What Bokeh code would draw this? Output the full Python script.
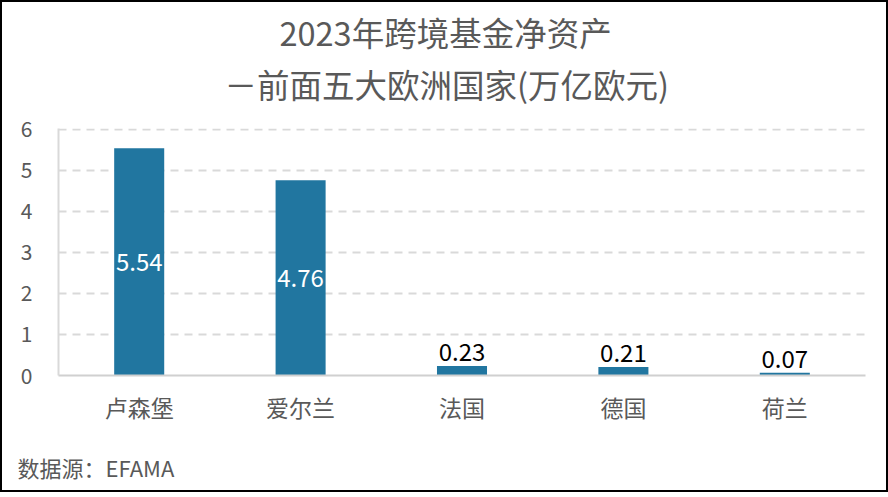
from bokeh.plotting import figure
from bokeh.models import ColumnDataSource, FactorRange, Title
from bokeh.layouts import column
from bokeh.embed import file_html
from bokeh.resources import INLINE
from bokeh.core.properties import value

countries = ["卢森堡", "爱尔兰", "法国", "德国", "荷兰"]
values = [5.54, 4.76, 0.23, 0.21, 0.07]
y_ticks = [0, 1, 2, 3, 4, 5, 6]
title_lines = ["2023年跨境基金净资产", "－前面五大欧洲国家(万亿欧元)"]
source_note = "数据源：EFAMA"

FONT = "Noto Sans CJK SC"
GRAY = "#595959"
BAR = "#2176A0"

NOTE_H = 58

p = figure(
    x_range=FactorRange(*countries, range_padding=0),
    y_range=(0, 6.02),
    width=884, height=488 - NOTE_H,
    min_border_left=56, min_border_right=21,
    min_border_top=126, min_border_bottom=488 - NOTE_H - 373,
    output_backend="svg", toolbar_location=None,
)
p.outline_line_color = None
p.background_fill_color = "white"
p.border_fill_color = "white"

src = ColumnDataSource(dict(x=countries, top=values))
p.vbar(x="x", top="top", width=0.31, source=src, color=BAR, line_color=None)

# data labels
inside = [v > 1 for v in values]
src_in = ColumnDataSource(dict(
    x=[c for c, i in zip(countries, inside) if i],
    y=[v / 2 for v, i in zip(values, inside) if i],
    t=[f"{v:.2f}" for v, i in zip(values, inside) if i],
))
src_out = ColumnDataSource(dict(
    x=[c for c, i in zip(countries, inside) if not i],
    y=[v for v, i in zip(values, inside) if not i],
    t=[f"{v:.2f}" for v, i in zip(values, inside) if not i],
))
p.text(x="x", y="y", text="t", source=src_in, text_color="white",
       text_font=value(FONT), text_font_size="24px",
       text_align="center", text_baseline="middle")
p.text(x="x", y="y", text="t", source=src_out, text_color="black",
       text_font=value(FONT), text_font_size="24px",
       text_align="center", text_baseline="bottom", y_offset=-5)

# grid
p.xgrid.grid_line_color = None
p.ygrid.ticker = y_ticks
p.ygrid.grid_line_color = "#d9d9d9"
p.ygrid.grid_line_width = 2
p.ygrid.grid_line_dash = "8 6"

# axes
p.yaxis.ticker = y_ticks
p.yaxis.axis_line_color = "#d9d9d9"
p.yaxis.axis_line_width = 2
p.yaxis.major_tick_line_color = None
p.yaxis.minor_tick_line_color = None
p.yaxis.major_label_standoff = 20
p.yaxis.major_label_text_font = FONT
p.yaxis.major_label_text_font_size = "21px"
p.yaxis.major_label_text_color = GRAY

p.xaxis.axis_line_color = "#d0d0d0"
p.xaxis.axis_line_width = 2
p.xaxis.major_tick_line_color = None
p.xaxis.minor_tick_line_color = None
p.xaxis.major_tick_out = 0
p.xaxis.major_tick_in = 0
p.xaxis.major_label_standoff = 14
p.xaxis.major_label_text_font = FONT
p.xaxis.major_label_text_font_size = "23px"
p.xaxis.major_label_text_color = GRAY

# titles
t2 = Title(text=title_lines[1], align="left", offset=166, standoff=43,
           text_font=FONT, text_font_size="32.5px", text_color=GRAY,
           text_font_style="normal")
t1 = Title(text=title_lines[0], align="left", offset=221, standoff=-37,
           text_font=FONT, text_font_size="32.5px", text_color=GRAY,
           text_font_style="normal")
p.add_layout(t2, "above")
p.add_layout(t1, "above")

# source note strip
note = figure(width=884, height=NOTE_H, x_range=(0, 1), y_range=(0, 1),
              min_border=0, x_axis_type=None, y_axis_type=None,
              output_backend="svg", toolbar_location=None)
note.outline_line_color = None
note.xgrid.visible = False
note.ygrid.visible = False
note.add_layout(Title(text=source_note, align="left", offset=-41, standoff=16,
                      text_font=FONT, text_font_size="22px", text_color=GRAY,
                      text_font_style="normal"), "below")

layout = column(p, note, spacing=0, styles={"border": "2px solid black"})
open("out.html", "w").write(file_html(layout, INLINE))
